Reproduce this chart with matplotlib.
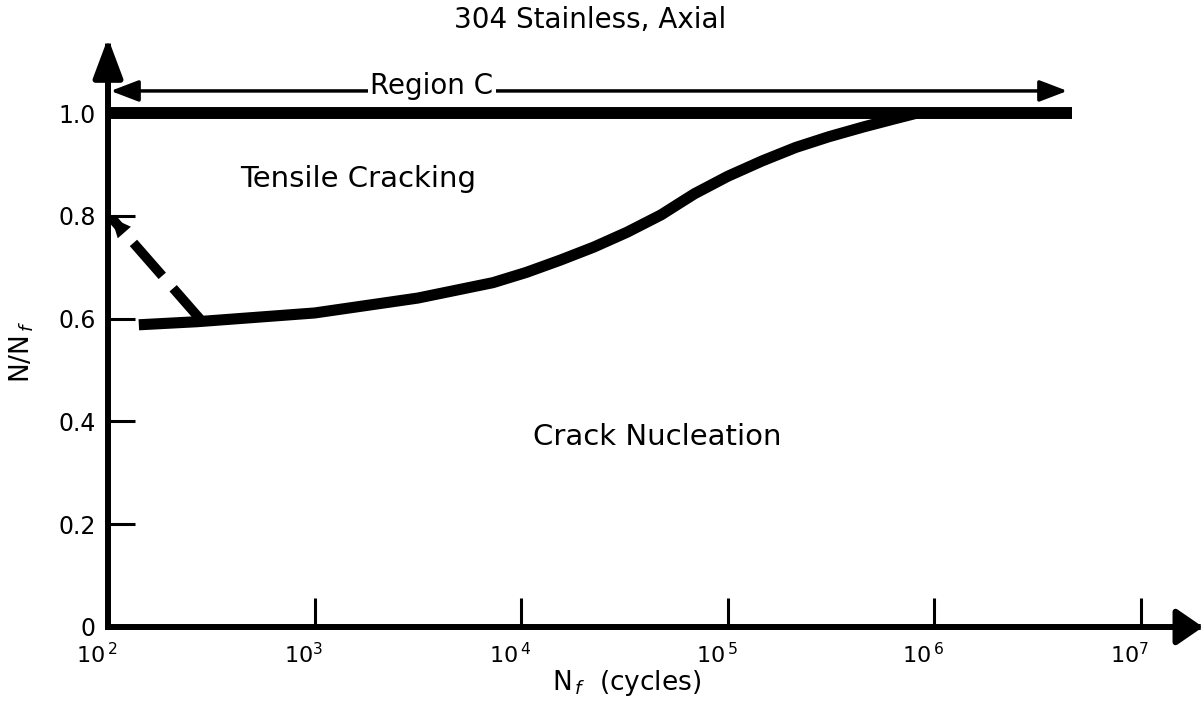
import matplotlib
matplotlib.use('Agg')
import matplotlib.pyplot as plt
from matplotlib.patches import FancyArrowPatch, ArrowStyle
from matplotlib.ticker import NullLocator
from matplotlib.transforms import ScaledTranslation

# solid boundary between tensile cracking and crack nucleation
nf_cycles = [141, 270, 1000, 3160, 7300, 10600, 15500, 22400, 32500, 47600,
             57000, 69000, 100000, 147000, 213000, 309000, 454000, 659000, 826000]
n_ratio = [0.588, 0.594, 0.611, 0.640, 0.670, 0.690, 0.714, 0.739, 0.768, 0.802,
           0.822, 0.843, 0.877, 0.907, 0.933, 0.954, 0.973, 0.990, 1.0]

# dashed branch at short lives (from the curve up to the arrow tip)
dash_cycles = [285, 104]
dash_ratio = [0.595, 0.796]

# N/Nf = 1 line
top_cycles = [100, 4.63e6]
top_ratio = [1.0, 1.0]

# Region C span
region_cycles = [103, 4.4e6]
region_ratio = [1.043, 1.043]

xtick_vals = [1e2, 1e3, 1e4, 1e5, 1e6, 1e7]
xtick_labels = [r'$10^{\,2}$', r'$10^{3}$', r'$10^{\,4}$', r'$10^{\,5}$', r'$10^{\,6}$', r'$10^{7}$']
ytick_vals = [0, 0.2, 0.4, 0.6, 0.8, 1.0]
ytick_labels = ['0', '0.2', '0.4', '0.6', '0.8', '1.0']

fig = plt.figure(figsize=(12.04, 7.17), dpi=100)
ax = fig.add_axes([108/1204, 90/717, 1095/1204, 589/717])
ax.set_xscale('log')
ax.set_xlim(1e2, 10**7.30)
ax.set_ylim(0, 1.146)
for s in ax.spines.values():
    s.set_visible(False)
ax.xaxis.set_minor_locator(NullLocator())

ax.set_xticks(xtick_vals, xtick_labels)
ax.set_yticks(ytick_vals, ytick_labels)
ax.tick_params(axis='x', direction='in', length=21, width=2.2, pad=11, labelsize=16)
ax.tick_params(axis='y', direction='in', length=19.5, width=2.2, pad=9, labelsize=17)
shift = ScaledTranslation(-8/72, 0, fig.dpi_scale_trans)
for lbl in ax.get_xticklabels():
    lbl.set_transform(lbl.get_transform() + shift)

# axes with arrow heads
xarrow = FancyArrowPatch((1e2, 0), (10**7.30, 0),
                         arrowstyle=ArrowStyle('-|>', head_length=16, head_width=11),
                         mutation_scale=1, lw=4.3, color='black', capstyle='projecting',
                         shrinkA=0, shrinkB=0, clip_on=False, zorder=3)
yarrow = FancyArrowPatch((1e2, 0), (1e2, 1.146),
                         arrowstyle=ArrowStyle('-|>', head_length=24, head_width=9),
                         mutation_scale=1, lw=4.3, color='black', capstyle='projecting',
                         shrinkA=0, shrinkB=0, clip_on=False, zorder=3)
ax.add_patch(xarrow)
ax.add_patch(yarrow)

# curves
ax.plot(nf_cycles, n_ratio, color='black', lw=8,
        solid_capstyle='butt', solid_joinstyle='round', zorder=2)
ax.plot(top_cycles, top_ratio, color='black', lw=8.6, solid_capstyle='butt', zorder=2)
ax.plot(dash_cycles, dash_ratio, color='black', lw=7, dashes=(4.5, 1.7),
        dash_capstyle='butt', zorder=2)
ax.annotate('', xy=(dash_cycles[1], dash_ratio[1]), xytext=(dash_cycles[0], dash_ratio[0]),
            arrowprops=dict(arrowstyle='-|>,head_length=1.0,head_width=0.45', lw=0,
                            color='black', mutation_scale=14, shrinkA=0, shrinkB=0))

# Region C double arrow
region = FancyArrowPatch((region_cycles[0], region_ratio[0]), (region_cycles[1], region_ratio[1]),
                         arrowstyle=ArrowStyle('<|-|>', head_length=17, head_width=6.5),
                         mutation_scale=1, lw=2.5, color='black',
                         shrinkA=0, shrinkB=0, clip_on=False, zorder=2)
ax.add_patch(region)
ax.text(3700, 1.052, 'Region C', fontsize=20, ha='center', va='center', zorder=4,
        bbox=dict(facecolor='white', edgecolor='none', pad=2))

ax.text(436, 0.856, 'Tensile Cracking', fontsize=21, ha='left', va='baseline')
ax.text(11400, 0.354, 'Crack Nucleation', fontsize=21, ha='left', va='baseline')

fig.text(590/1204, 1 - 20/717, '304 Stainless, Axial', fontsize=20, ha='center', va='center')
fig.text(552/1204, 1 - 690/717, r'N$_{\,f}$  (cycles)', fontsize=19, ha='left', va='baseline')
fig.text(22/1204, 1 - 352/717, r'N/N$_{\,f}$', fontsize=19, rotation=90, ha='center', va='center')

fig.savefig('out.png', dpi=100)
